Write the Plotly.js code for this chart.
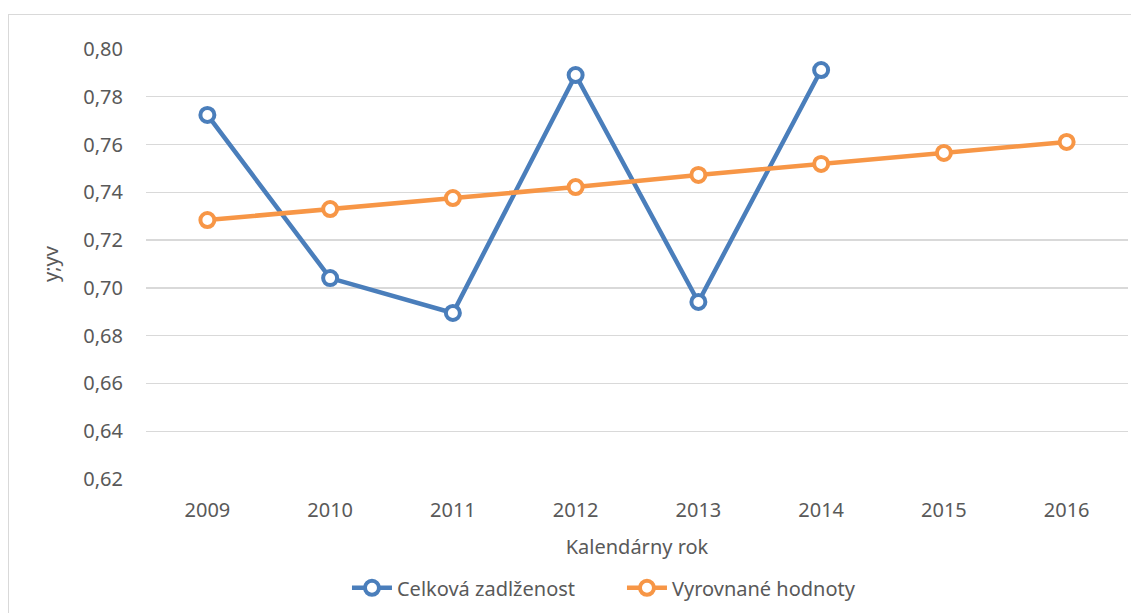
<!DOCTYPE html>
<html>
<head>
<meta charset="utf-8">
<script src="https://cdn.plot.ly/plotly-3.0.1.min.js"></script>
<style>
html,body{margin:0;padding:0;background:#fff;overflow:hidden;}
#frame{position:absolute;left:8px;top:14px;width:1200px;height:700px;border:1px solid #d9d9d9;box-sizing:border-box;}
#chart{position:absolute;left:0;top:0;width:1131px;height:613px;}
</style>
</head>
<body>
<div id="frame"></div>
<div id="chart"></div>
<script>
const years = ['2009','2010','2011','2012','2013','2014','2015','2016'];
const celkovaYears = ['2009','2010','2011','2012','2013','2014'];
const celkova = [0.7724, 0.7041, 0.6895, 0.7891, 0.6941, 0.7912];
const vyrovnane = [0.7284, 0.7330, 0.7376, 0.7422, 0.7473, 0.7519, 0.7565, 0.7611];
const yTicks = [0.62,0.64,0.66,0.68,0.70,0.72,0.74,0.76,0.78,0.80];

const FONT = 'Noto Sans, Open Sans, sans-serif';
const traces = [
  {x: celkovaYears, y: celkova, name: 'Celková zadlženost', type: 'scatter', mode: 'lines+markers',
   line: {color: '#4a7ebb', width: 4.5},
   marker: {symbol: 'circle', size: 14, color: '#ffffff', line: {color: '#4a7ebb', width: 4}}},
  {x: years, y: vyrovnane, name: 'Vyrovnané hodnoty', type: 'scatter', mode: 'lines+markers',
   line: {color: '#f79646', width: 4.5},
   marker: {symbol: 'circle', size: 14, color: '#ffffff', line: {color: '#f79646', width: 4}}}
];
const layout = {
  width: 1131, height: 613,
  margin: {l: 145.6, r: 2.6, t: 48.5, b: 134, autoexpand: false},
  paper_bgcolor: 'rgba(0,0,0,0)', plot_bgcolor: 'rgba(0,0,0,0)',
  separators: ', ',
  font: {family: FONT, size: 20, color: '#595959'},
  xaxis: {type: 'category', categoryorder: 'array', categoryarray: years, range: [-0.5, 7.5],
    showgrid: false, zeroline: false, showline: false, ticks: '', ticklabelstandoff: 17,
    tickfont: {size: 20, color: '#595959'},
    title: {text: 'Kalendárny rok', font: {size: 20, color: '#595959'}, standoff: 17}},
  yaxis: {range: [0.62, 0.80], tickvals: yTicks, tickformat: '.2f', showgrid: true, gridcolor: '#d9d9d9', gridwidth: 1.3,
    zeroline: false, showline: false, ticks: '', ticklabelstandoff: 22,
    tickfont: {size: 20, color: '#595959'},
    title: {text: 'y;yv', font: {size: 20, color: '#595959'}, standoff: 19}},
  legend: {orientation: 'h', x: 0.4847, xanchor: 'center', y: -0.253, yanchor: 'middle',
    font: {size: 20, color: '#595959'}, itemwidth: 40, traceorder: 'normal',
    entrywidth: 220, entrywidthmode: 'pixels'},
  showlegend: true
};
Plotly.newPlot('chart', traces, layout, {staticPlot: true, displayModeBar: false});
</script>
</body>
</html>
